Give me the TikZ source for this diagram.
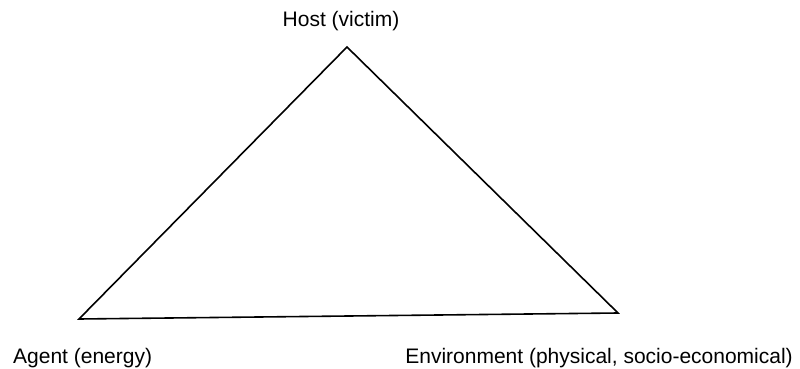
\documentclass[tikz,border=0pt]{standalone}
\usepackage{fontspec}
\setmainfont{Liberation Sans}
\begin{document}
\begin{tikzpicture}[x=1pt,y=-1pt,
  label/.style={inner sep=0pt,font=\fontsize{21}{25}\selectfont},
  edge/.style={line width=1.6pt,line join=miter}]
\useasboundingbox (0,0) rectangle (800,369);
% corners of the epidemiological triangle
\coordinate (top) at (347,47);
\coordinate (left) at (79,319);
\coordinate (right) at (618,313);
\draw[edge] (top) -- (right) -- (left) -- cycle;
% vertex labels
\node[label,anchor=base] (host) at (341,27) {Host (victim)};
\node[label,anchor=base west] (agent) at (13,363) {Agent (energy)};
\node[label,anchor=base east] (env) at (793,363) {Environment (physical, socio-economical)};
\end{tikzpicture}
\end{document}
